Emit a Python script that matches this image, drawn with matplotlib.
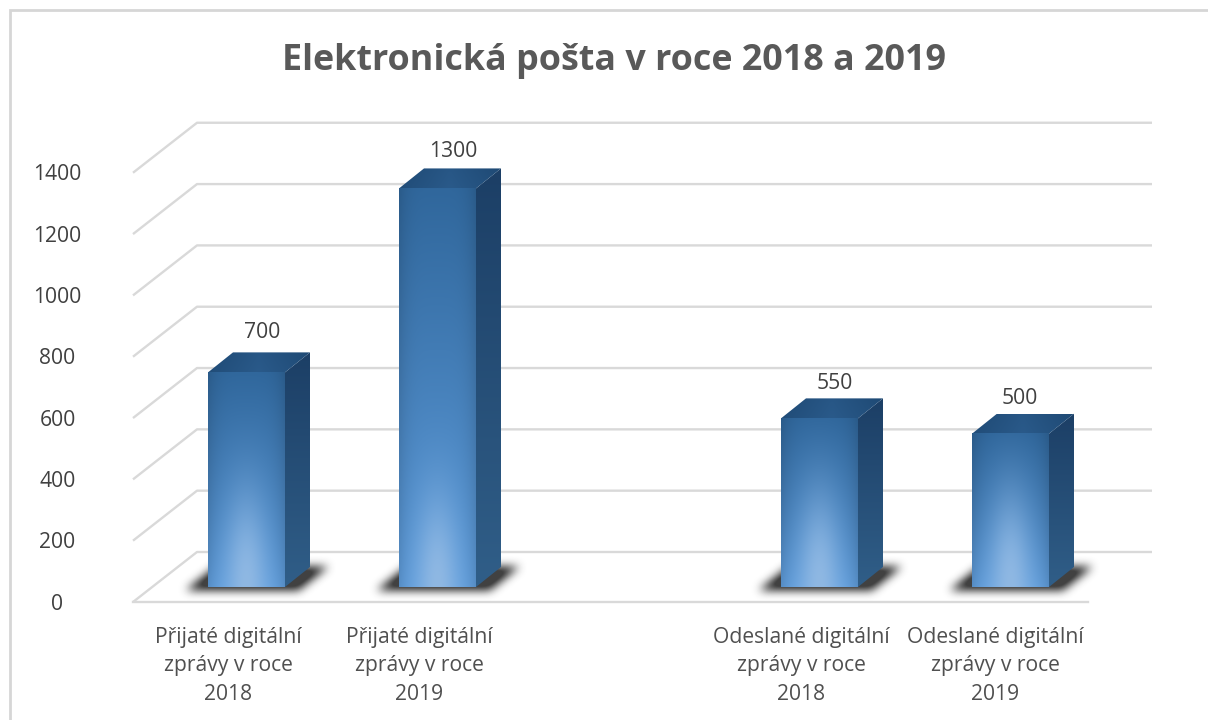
import numpy as np
import matplotlib
matplotlib.use('Agg')
import matplotlib.pyplot as plt
from matplotlib.colors import to_rgb
from matplotlib.patches import Polygon

# chart data
categories = ['Přijaté digitální\nzprávy v roce\n2018', 'Přijaté digitální\nzprávy v roce\n2019', '',
              'Odeslané digitální\nzprávy v roce\n2018', 'Odeslané digitální\nzprávy v roce\n2019']
values = [700, 1300, None, 550, 500]
y_ticks = [0, 200, 400, 600, 800, 1000, 1200, 1400]
title = 'Elektronická pošta v roce 2018 a 2019'

W, H = 1208, 720
plt.rcParams['font.family'] = ['Open Sans', 'DejaVu Sans']

# pixel sizes of the fake 3d box
slot_px = 191.0
val_px = 0.3066
left_px, floor_px = 133.0, 602.0
depth_dx, depth_dy = 64 / slot_px, 50 / val_px
bar_w = 77 / slot_px
bar_depth_dx, bar_depth_dy = 25 / slot_px, 20 / val_px
shift_x, shift_y = 18 / slot_px, 15 / val_px

# hand placed labels in the original: gap above the bar, shift from bar left
label_gap = [20, 17, None, 15, 15]
label_shift = [54, 54, None, 54, 48]
cat_shift = [0, 0, 0, 0, 3]

fig = plt.figure(figsize=(W / 100, H / 100), dpi=100, facecolor='white')
ax = fig.add_axes([0, 0, 1, 1])
ax.set_xlim(-left_px / slot_px, (W - left_px) / slot_px)
ax.set_ylim(-(H - floor_px) / val_px, floor_px / val_px)
ax.axis('off')

# outer frame, only top and left show up
ax.plot([9.5 / W, 9.5 / W, 1], [0, 1 - 10 / H, 1 - 10 / H], transform=ax.transAxes,
        color='#d6d6d6', lw=2.0, solid_joinstyle='miter', zorder=1)

# walls
grid = '#d9d9d9'
n = len(categories)
for v in y_ticks:
    ax.plot([0, depth_dx, n + depth_dx], [v, v + depth_dy, v + depth_dy],
            color=grid, lw=1.7, solid_capstyle='butt', zorder=1)
    ax.text(-0.395, v - 7, str(v), ha='center', va='center', fontsize=15.2, color='#404040', zorder=6)
ax.plot([0, n], [0, 0], color=grid, lw=1.7, zorder=1)


def gradient_face(poly, img, extent, z):
    im = ax.imshow(img, extent=extent, origin='lower', aspect='auto', zorder=z, interpolation='bilinear')
    patch = Polygon(poly, closed=True, transform=ax.transData, fill=False, edgecolor='none')
    ax.add_patch(patch)
    im.set_clip_path(patch)


def lerp(c1, c2, t):
    c1 = np.array(to_rgb(c1))
    c2 = np.array(to_rgb(c2))
    return c1 + (c2 - c1) * t[..., None]


def blur(a, r):
    kernel = np.ones(2 * r + 1) / (2 * r + 1)
    for _ in range(3):
        a = np.apply_along_axis(lambda m: np.convolve(m, kernel, mode='same'), 0, a)
        a = np.apply_along_axis(lambda m: np.convolve(m, kernel, mode='same'), 1, a)
    return a


for i, v in enumerate(values):
    if v is None:
        continue
    x0 = i + 0.5 - bar_w / 2 + shift_x
    x1 = x0 + bar_w
    y0 = shift_y
    y1 = y0 + v
    bx, by = bar_depth_dx, bar_depth_dy

    # soft floor shadow, in a small pixel grid around the foot of the bar
    sw, sh = 260, 90
    gx = x0 + (np.arange(sw) - 80) / slot_px
    gy = y0 + (np.arange(sh) - 30) / val_px
    XX, YY = np.meshgrid(gx, gy)
    t = (YY - y0) / by
    mask = (YY >= y0 - 3 / val_px) & (YY <= y0 + by * 1.0) & \
           (XX >= x0 - 18 / slot_px + t * bx) & (XX <= x1 + 18 / slot_px + t * bx)
    alpha = np.clip(blur(mask.astype(float), 4) * 1.1, 0, 0.88)
    rgba = np.zeros((sh, sw, 4))
    rgba[..., :3] = 0.15
    rgba[..., 3] = alpha
    ax.imshow(rgba, extent=[gx[0], gx[-1], gy[0], gy[-1]], origin='lower', aspect='auto',
              zorder=2, interpolation='bilinear')

    # side face, lighter towards the floor
    u = np.linspace(0, 1, 60)
    tt = np.tile(u[:, None], (1, 10))
    side = lerp('#305e88', '#1c3f66', tt)
    gradient_face([(x1, y0), (x1 + bx, y0 + by), (x1 + bx, y1 + by), (x1, y1)], side,
                  [x1, x1 + bx, y0, y1 + by], 3)

    # top face
    ttop = np.tile(np.linspace(0, 1, 20)[:, None], (1, 40))
    shade = np.tile(np.abs(np.linspace(-1, 1, 40))[None, :], (20, 1))
    top = lerp('#2a5a8a', '#1f4a75', shade * 0.8 + ttop * 0.2)
    gradient_face([(x0, y1), (x1, y1), (x1 + bx, y1 + by), (x0 + bx, y1 + by)], top,
                  [x0, x1 + bx, y1, y1 + by], 3)

    # front face, light spot at the foot of the bar
    hpx = int(v * val_px)
    fy = np.linspace(0, 1, max(hpx, 2))
    fx = np.linspace(-1, 1, 77)
    FX, FY = np.meshgrid(fx, fy)
    base = lerp('#609fdf', '#30679c', np.clip(FY, 0, 1) ** 0.9)
    spot = np.exp(-(FX / 0.55) ** 2 - ((FY * hpx) / 85) ** 2)
    edge = np.abs(FX)[..., None] ** 4
    front = base * (1 - 0.12 * edge)
    front = front + (np.array(to_rgb('#8fb8e3')) - front) * spot[..., None]
    ax.imshow(np.clip(front, 0, 1), extent=[x0, x1, y0, y1], origin='lower', aspect='auto',
              zorder=4, interpolation='bilinear')

    # value label
    ax.text(x0 + label_shift[i] / slot_px, y1 + by + label_gap[i] / val_px, str(v),
            ha='center', va='center', fontsize=15.2, color='#404040', zorder=6)

# category labels
for i, lab in enumerate(categories):
    if lab:
        ax.text(i + 0.5 + cat_shift[i] / slot_px, -25 / val_px, lab, ha='center', va='top',
                fontsize=15.2, color='#505050', linespacing=1.46, zorder=6)

ax.text(614 / W, 1 - 61 / H, title, transform=ax.transAxes, ha='center', va='center',
        fontsize=25.8, fontweight='bold', color='#595959')

ax.set_xlim(-left_px / slot_px, (W - left_px) / slot_px)
ax.set_ylim(-(H - floor_px) / val_px, floor_px / val_px)
fig.savefig('out.png', dpi=100)
